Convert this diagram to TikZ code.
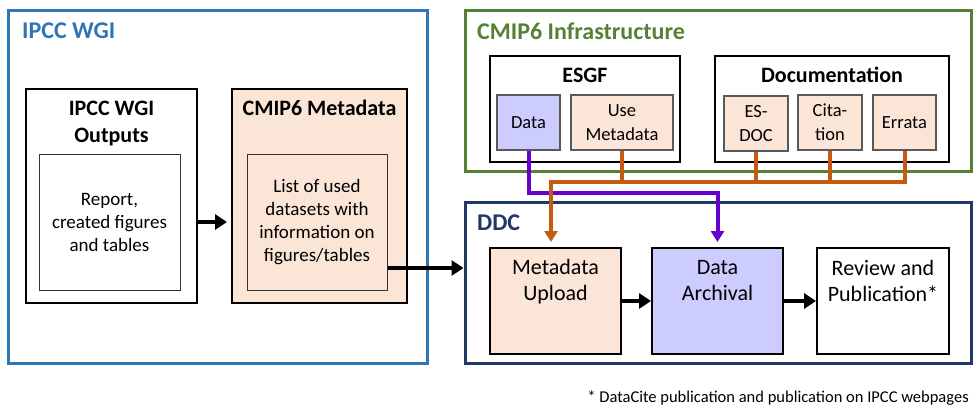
\documentclass[tikz,border=0pt]{standalone}
\usepackage{fontspec}
\setmainfont{Carlito}
\usepackage{tikz}
\usetikzlibrary{arrows.meta,positioning,calc}
\definecolor{ipccblue}{HTML}{2E75B6}
\definecolor{cmipgreen}{HTML}{548235}
\definecolor{ddcnavy}{HTML}{203864}
\definecolor{peach}{HTML}{FBE5D6}
\definecolor{lavender}{HTML}{CCCCFF}
\definecolor{floworange}{HTML}{C55A11}
\definecolor{flowpurple}{HTML}{6600CC}

\begin{document}
\begin{tikzpicture}[x=1pt, y=-1pt,
  frame/.style={draw, line width=3pt, inner sep=0pt},
  frametitle/.style={font=\fontsize{24}{29}\selectfont\bfseries, anchor=west, inner sep=0pt},
  box/.style={draw, line width=2pt, inner sep=0pt},
  boxtitle/.style={font=\fontsize{22}{27}\selectfont\bfseries, align=center, inner sep=0pt},
  inbox/.style={draw=black!80, line width=1pt, align=center, inner sep=0pt,
    minimum height=136pt, font=\fontsize{19}{23}\selectfont},
  item/.style={draw=black!65, line width=1.5pt, align=center, inner sep=0pt,
    minimum height=55pt, font=\fontsize{18.5}{24}\selectfont},
  ddcbox/.style={box, minimum width=131pt, minimum height=106pt},
  ddctext/.style={align=center, inner sep=0pt, font=\fontsize{22}{26}\selectfont},
  bigarr/.style={-{Triangle[length=12pt,width=15pt]}, line width=4.5pt},
  orline/.style={draw=floworange, line width=4pt},
  orarr/.style={orline, -{Triangle[length=11pt,width=13pt]}},
  puarr/.style={draw=flowpurple, line width=4pt, -{Triangle[length=11pt,width=13pt]}}]
\useasboundingbox (0,0) rectangle (980,415);
% IPCC WGI side
\node[frame, draw=ipccblue, minimum width=419pt, minimum height=353pt] (ipcc) at (217.5,186.5) {};
\node[frametitle, text=ipccblue] (ipcctitle) at (22,31) {IPCC WGI};
\node[box, minimum width=171pt, minimum height=214pt] (outputs) at (111.5,196) {};
\node[boxtitle] (outputstitle) at (111.5,123.5) {IPCC WGI\\Outputs};
\node[inbox, minimum width=141pt] (outputsin) at (109.5,222) {Report,\\created figures\\and tables};
\node[box, fill=peach, minimum width=175pt, minimum height=214pt] (cmipmeta) at (319.5,196) {};
\node[boxtitle] (cmipmetatitle) at (319.5,108) {CMIP6 Metadata};
\node[inbox, fill=peach, minimum width=140pt] (metain) at (317,222)
  {List of used\\datasets with\\information on\\figures/tables};
% CMIP6 infrastructure
\node[frame, draw=cmipgreen, minimum width=506pt, minimum height=161pt] (infra) at (718,90.5) {};
\node[frametitle, text=cmipgreen] (infratitle) at (477,31) {CMIP6 Infrastructure};
\node[box, minimum width=190pt, minimum height=106pt] (esgf) at (585,109) {};
\node[boxtitle] (esgftitle) at (585,75) {ESGF};
\node[item, fill=lavender, minimum width=63pt] (data) at (528.5,122.5) {Data};
\node[item, fill=peach, minimum width=102pt] (usemeta) at (622,122.5) {Use\\Metadata};
\node[box, minimum width=234pt, minimum height=106pt] (docu) at (832,109) {};
\node[boxtitle] (docutitle) at (832,75) {Documentation};
\node[item, fill=peach, minimum width=64pt] (esdoc) at (756,123.5) {ES-\\DOC};
\node[item, fill=peach, minimum width=64pt] (citation) at (830,122.5) {Cita-\\tion};
\node[item, fill=peach, minimum width=63pt] (errata) at (904.5,122.5) {Errata};
% DDC
\node[frame, draw=ddcnavy, minimum width=506pt, minimum height=161pt] (ddc) at (718,282.5) {};
\node[frametitle, text=ddcnavy] (ddctitle) at (477,223) {DDC};
\node[ddcbox, fill=peach] (upload) at (555.5,301) {};
\node[ddctext] (uploadtext) at (555.5,281.5) {Metadata\\Upload};
\node[ddcbox, fill=lavender] (archive) at (717.5,301) {};
\node[ddctext] (archivetext) at (717.5,280.5) {Data\\Archival};
\node[ddcbox, minimum width=132pt] (review) at (883,301) {};
\node[ddctext] (reviewtext) at (883,280.5) {Review and\\Publication*};
\node[anchor=east, inner sep=0pt, font=\fontsize{16.5}{20}\selectfont] (footnote) at (969,398)
  {* DataCite publication and publication on IPCC webpages};
% connectors
\draw[bigarr, shorten >=4pt] (outputsin.center -| outputs.east) -- (outputsin.center -| cmipmeta.west);
\coordinate (metaout) at ($(metain.east)+(0,46)$);
\draw[bigarr] (metaout) -- (metaout -| ddc.west);
\draw[bigarr] (upload) -- (archive);
\draw[bigarr] (archive) -- (review);
\draw[puarr, shorten >=5pt] (data.south) -- ++(0,42) -| (archive.north);
\coordinate (busstart) at (551,182);
\foreach \src in {usemeta,esdoc,citation}
  \draw[orline] (\src.south) -- (\src.south |- busstart);
\draw[orarr, shorten >=5pt] (errata.south) -- (errata.south |- busstart) -- (busstart)
  -- (busstart |- upload.north);
\end{tikzpicture}
\end{document}
